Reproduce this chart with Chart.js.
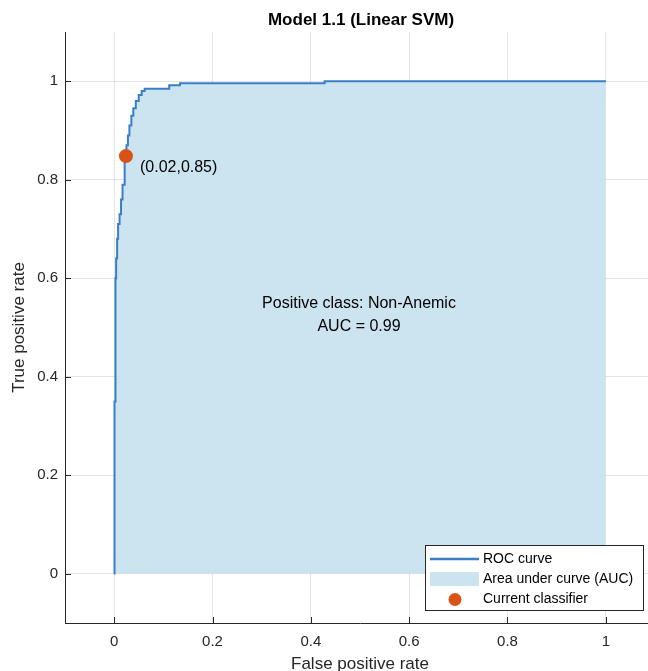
<!DOCTYPE html>
<html><head><meta charset="utf-8">
<script src="https://cdn.jsdelivr.net/npm/chart.js@4.4.0/dist/chart.umd.min.js"></script>
<style>html,body{margin:0;padding:0;background:#fff;overflow:hidden}#wrap{width:648px;height:671px;position:relative;overflow:hidden}canvas{display:block}</style>
</head><body><div id="wrap"><canvas id="c" width="662" height="671"></canvas></div>
<script>
const chartTitle = 'Model 1.1 (Linear SVM)';
const xAxisTitle = 'False positive rate';
const yAxisTitle = 'True positive rate';
const rocFpr = [0, 0, 0.001, 0.001, 0.002, 0.002, 0.003, 0.003, 0.004, 0.004, 0.006, 0.006, 0.008, 0.008, 0.011, 0.011, 0.014, 0.014, 0.017, 0.017, 0.020, 0.020, 0.022, 0.022, 0.025, 0.025, 0.028, 0.028, 0.031, 0.031, 0.035, 0.035, 0.039, 0.039, 0.044, 0.044, 0.050, 0.050, 0.056, 0.056, 0.062, 0.062, 0.112, 0.112, 0.134, 0.134, 0.428, 0.428, 1];
const rocTpr = [0, 0.10, 0.10, 0.35, 0.35, 0.50, 0.50, 0.60, 0.60, 0.64, 0.64, 0.68, 0.68, 0.71, 0.71, 0.73, 0.73, 0.76, 0.76, 0.79, 0.79, 0.82, 0.82, 0.85, 0.85, 0.87, 0.87, 0.89, 0.89, 0.91, 0.91, 0.93, 0.93, 0.945, 0.945, 0.96, 0.96, 0.972, 0.972, 0.98, 0.98, 0.985, 0.985, 0.992, 0.992, 0.996, 0.996, 1, 1];
const classifierFpr = [0.024];
const classifierTpr = [0.848];
const classifierLabel = '(0.02,0.85)';
const infoLines = ['Positive class: Non-Anemic', 'AUC = 0.99'];
const tickValues = [0, 0.2, 0.4, 0.6, 0.8, 1];
const tickLabels = ['0', '0.2', '0.4', '0.6', '0.8', '1'];
const legendLabels = ['ROC curve', 'Area under curve (AUC)', 'Current classifier'];

const FONT = "'Liberation Sans', Arial, sans-serif";
const TXT = '#262626';
const LINE_C = 'rgb(58,126,198)';
const AREA_C = 'rgb(204,228,240)';
const MARK_C = 'rgb(217,83,25)';

const rocPoints = rocFpr.map((x, i) => ({x: x, y: rocTpr[i]}));
const markPoints = classifierFpr.map((x, i) => ({x: x, y: classifierTpr[i]}));

const labelFor = v => { const i = tickValues.findIndex(t => Math.abs(t - v) < 1e-9); return i >= 0 ? tickLabels[i] : ''; };

const overlay = {
  id: 'overlay',
  afterDraw(chart) {
    const ctx = chart.ctx, xs = chart.scales.x, ys = chart.scales.y, a = chart.chartArea;
    ctx.save();
    // inward ticks
    ctx.strokeStyle = TXT; ctx.lineWidth = 1;
    tickValues.forEach(v => {
      const px = Math.round(xs.getPixelForValue(v)) + 0.5;
      ctx.beginPath(); ctx.moveTo(px, a.bottom); ctx.lineTo(px, a.bottom - 6); ctx.stroke();
      const py = Math.round(ys.getPixelForValue(v)) + 0.5;
      ctx.beginPath(); ctx.moveTo(a.left, py); ctx.lineTo(a.left + 6, py); ctx.stroke();
    });
    // title
    ctx.fillStyle = '#000';
    ctx.font = 'bold 17px ' + FONT;
    ctx.textAlign = 'center'; ctx.textBaseline = 'middle';
    ctx.fillText(chartTitle, (a.left + a.right) / 2 + 1, 20);
    // annotations
    ctx.font = '16px ' + FONT;
    ctx.textAlign = 'left';
    ctx.fillText(classifierLabel, xs.getPixelForValue(classifierFpr[0]) + 14, ys.getPixelForValue(classifierTpr[0]) + 11);
    ctx.textAlign = 'center';
    const cx = xs.getPixelForValue(0.5) - 1;
    ctx.fillText(infoLines[0], cx, ys.getPixelForValue(0.549));
    ctx.fillText(infoLines[1], cx, ys.getPixelForValue(0.502));
    // legend
    const L = 425.5, T = 545.5, W = 218, H = 65;
    ctx.fillStyle = '#fff'; ctx.fillRect(L, T, W, H);
    ctx.strokeStyle = TXT; ctx.lineWidth = 1; ctx.strokeRect(L, T, W, H);
    ctx.strokeStyle = LINE_C; ctx.lineWidth = 2.5;
    ctx.beginPath(); ctx.moveTo(430, 559); ctx.lineTo(479, 559); ctx.stroke();
    ctx.fillStyle = AREA_C; ctx.fillRect(430, 572, 49, 14);
    ctx.fillStyle = MARK_C; ctx.beginPath(); ctx.arc(455, 599.5, 6.5, 0, Math.PI * 2); ctx.fill();
    ctx.fillStyle = '#000'; ctx.font = '14px ' + FONT; ctx.textAlign = 'left'; ctx.textBaseline = 'middle';
    ctx.fillText(legendLabels[0], 483, 559);
    ctx.fillText(legendLabels[1], 483, 579);
    ctx.fillText(legendLabels[2], 483, 599.5);
    ctx.restore();
  }
};

new Chart(document.getElementById('c'), {
  type: 'line',
  data: {
    datasets: [
      {label: legendLabels[0], data: rocPoints, borderColor: LINE_C, borderWidth: 2, pointRadius: 0, fill: false, tension: 0, order: 1},
      {label: legendLabels[1], data: rocPoints, borderWidth: 0, borderColor: 'rgba(0,0,0,0)', backgroundColor: AREA_C, pointRadius: 0, fill: 'origin', tension: 0, order: 2},
      {label: legendLabels[2], data: markPoints, showLine: false, pointRadius: 7, pointBackgroundColor: MARK_C, pointBorderColor: MARK_C, pointBorderWidth: 0, order: 0}
    ]
  },
  options: {
    responsive: false, animation: false, devicePixelRatio: 1,
    layout: {padding: {top: 32, right: 0, left: 0, bottom: 0}},
    plugins: {legend: {display: false}, tooltip: {enabled: false}, title: {display: false}},
    scales: {
      x: {
        type: 'linear', min: -0.1, max: 1.1,
        afterBuildTicks: s => { s.ticks = tickValues.map(v => ({value: v})); },
        afterFit: s => { s.height = 48; },
        grid: {color: 'rgba(0,0,0,0.11)', drawTicks: false},
        border: {color: TXT, width: 1},
        ticks: {color: TXT, font: {family: FONT, size: 15}, padding: 10, maxRotation: 0, callback: v => labelFor(v)},
        title: {display: true, text: xAxisTitle, color: TXT, font: {family: FONT, size: 17, lineHeight: 0.8}, padding: {top: 0, bottom: 0}}
      },
      y: {
        type: 'linear', min: -0.1, max: 1.1,
        afterBuildTicks: s => { s.ticks = tickValues.map(v => ({value: v})); },
        afterFit: s => { s.width = 65; },
        grid: {color: 'rgba(0,0,0,0.11)', drawTicks: false},
        border: {color: TXT, width: 1},
        ticks: {color: TXT, font: {family: FONT, size: 15}, padding: 7, callback: v => labelFor(v)},
        title: {display: true, text: yAxisTitle, color: TXT, font: {family: FONT, size: 17, lineHeight: 0.8}, padding: {top: 13, bottom: 0}}
      }
    }
  },
  plugins: [overlay]
});
</script></body></html>
